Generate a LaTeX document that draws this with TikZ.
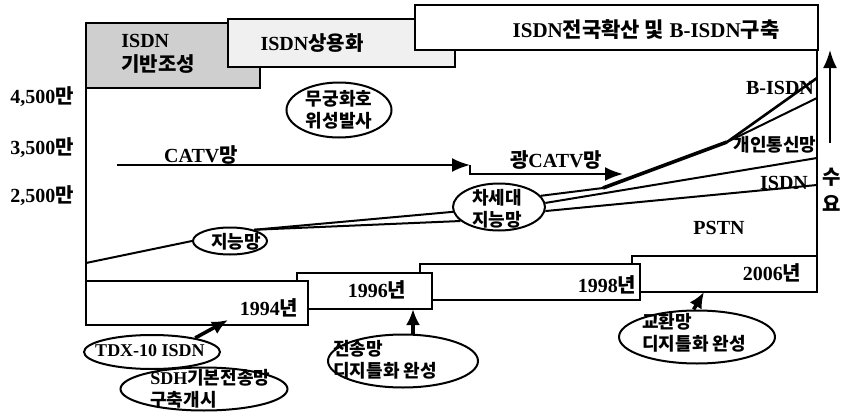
\documentclass[tikz,border=0pt]{standalone}
\usepackage{fontspec}
\setmainfont{Liberation Serif}
\newfontfamily\krfont{Noto Sans CJK KR Bold}
\newcommand{\ko}[1]{{\krfont #1}}
\usetikzlibrary{arrows.meta, shapes.geometric, calc}

\begin{document}
\begin{tikzpicture}[x=0.5pt, y=-0.5pt,
    txt/.style={font=\fontsize{10}{12}\selectfont\bfseries, inner sep=0pt},
    small/.style={font=\fontsize{9}{11}\selectfont\bfseries, inner sep=0pt},
    oval/.style={ellipse, draw, line width=1pt, inner sep=0pt},
    stepbox/.style={draw, line width=1pt, fill=white},
    trend/.style={line width=1pt},
    push/.style={line width=1.8pt, -{Latex[length=8pt, width=7pt]}}]
  \useasboundingbox (0,0) rectangle (847,412);

  % Phases : top staircase
  \draw[stepbox, fill=gray!38] (86,23) rectangle (260,88);
  \draw[stepbox, fill=gray!12] (228,19) rectangle (455,67);
  \draw[stepbox] (415,5) rectangle (818,50);
  \node[txt, align=left, anchor=west] (phase1) at (121,54) {ISDN\\\ko{기반조성}};
  \node[txt] (phase2) at (312,43) {ISDN\ko{상용화}};
  \node[txt, font=\fontsize{10.5}{12}\selectfont\bfseries] (phase3) at (646,30) {ISDN\ko{전국확산 및} B-ISDN\ko{구축}};

  % Axes
  \draw[line width=1pt] (86,88) -- (86,281);
  \draw[line width=1pt] (817,50) -- (817,256);
  \foreach \v/\y in {4/97,3/148,2/196}
    { \node[txt] (tick\v) at (42,\y) {\v,500\ko{만}}; }
  \coordinate (demS) at (830,143);
  \coordinate (demE) at (830,50);
  \draw[line width=1pt, -{Latex[length=9pt, width=7pt]}] (demS) -- (demE);
  \node[txt] (dem1) at (832,177) {\ko{수}};
  \node[txt] (dem2) at (832,203) {\ko{요}};

  % Years : bottom staircase (later years behind)
  \foreach \xa/\ya/\xb/\yb/\yr/\tx/\ty in
      {632/256/817/292/2006/772/273, 420/264/640/300/1998/607/285,
       297/273/432/309/1996/377/290, 86/281/308/325/1994/269/308}
    { \draw[stepbox] (\xa,\ya) rectangle (\xb,\yb);
      \node[txt] (year\yr) at (\tx,\ty) {\yr\ko{년}}; }

  % Networks
  \node[oval, minimum width=37pt, minimum height=13.5pt] (jineung) at (230,241) {};
  \node[small] (jineungT) at (236,242) {\ko{지능망}};
  \node[oval, minimum width=46pt, minimum height=23.5pt] (chasedae) at (499,207) {};
  \node[small, align=center] (chasedaeT) at (497,209) {\ko{차세대}\\\ko{지능망}};
  \node[oval, minimum width=52.5pt, minimum height=27.5pt] (mugung) at (339,110) {};
  \node[small, align=center] (mugungT) at (339,110) {\ko{무궁화호}\\\ko{위성발사}};

  \coordinate (origin) at (86,263);
  \coordinate (bend) at (603,188);
  \coordinate (fork) at (727,142);
  \coordinate (bisdnE) at (817,78);
  \coordinate (pcsE) at (817,98);
  \coordinate (isdnE) at (817,158);
  \coordinate (pstnE) at (817,185);
  \draw[trend] (origin) -- (jineung.west);
  \draw[trend] (jineung.25) -- (chasedae.186);
  \draw[trend] (jineung.25) -- (chasedae.200);
  \draw[trend] (chasedae.15) -- (bend);
  \draw[line width=1.8pt] (bend) -- (fork);
  \draw[trend, line width=1.3pt] (fork) -- (bisdnE);
  \draw[trend] (fork) -- (pcsE);
  \draw[trend] (chasedae.5) -- (isdnE);
  \draw[trend] (chasedae.355) -- (pstnE);
  \node[txt] (bisdnL) at (780,88) {B-ISDN};
  \node[small] (pcsL) at (775,145) {\ko{개인통신망}};
  \node[txt] (isdnL) at (784,183) {ISDN};
  \node[txt] (pstnL) at (719,228) {PSTN};

  % CATV
  \coordinate (catvS) at (117,165);
  \coordinate (catvM) at (470,165);
  \coordinate (gcatvE) at (623,174);
  \draw[trend, -{Latex[length=9pt, width=7pt]}] (catvS) -- (catvM);
  \draw[trend, -{Latex[length=9pt, width=7pt]}] (catvM) |- (gcatvE);
  \node[txt] (catvL) at (201,155) {CATV\ko{망}};
  \node[txt] (gcatvL) at (556,160) {\ko{광}CATV\ko{망}};

  % Milestones
  \node[oval, minimum width=68pt, minimum height=17pt] (tdx) at (152,352) {};
  \node[small] (tdxT) at (150,351) {TDX-10 ISDN};
  \node[oval, minimum width=83.5pt, minimum height=21.5pt] (sdh) at (204,389) {};
  \node[small, align=left, anchor=west] (sdhT) at (150,389) {SDH\ko{기본전송망}\\\ko{구축개시}};
  \node[oval, minimum width=75pt, minimum height=26.5pt] (jeonsong) at (403,361) {};
  \node[small, align=left, anchor=west] (jeonsongT) at (333,360) {\ko{전송망}\\\ko{디지틀화 완성}};
  \node[oval, minimum width=78pt, minimum height=26.5pt] (gyohwan) at (697,337) {};
  \node[small, align=left, anchor=west] (gyohwanT) at (642,333) {\ko{교환망}\\\ko{디지틀화 완성}};

  \coordinate (tdxTip) at (228,320);
  \coordinate (jsTip) at (413,309);
  \coordinate (ghTip) at (704,292);
  \draw[push] (tdx.18) -- (tdxTip);
  \draw[push] (jsTip |- jeonsong.north) -- (jsTip);
  \draw[push] (gyohwan.97) -- (ghTip);
\end{tikzpicture}
\end{document}
